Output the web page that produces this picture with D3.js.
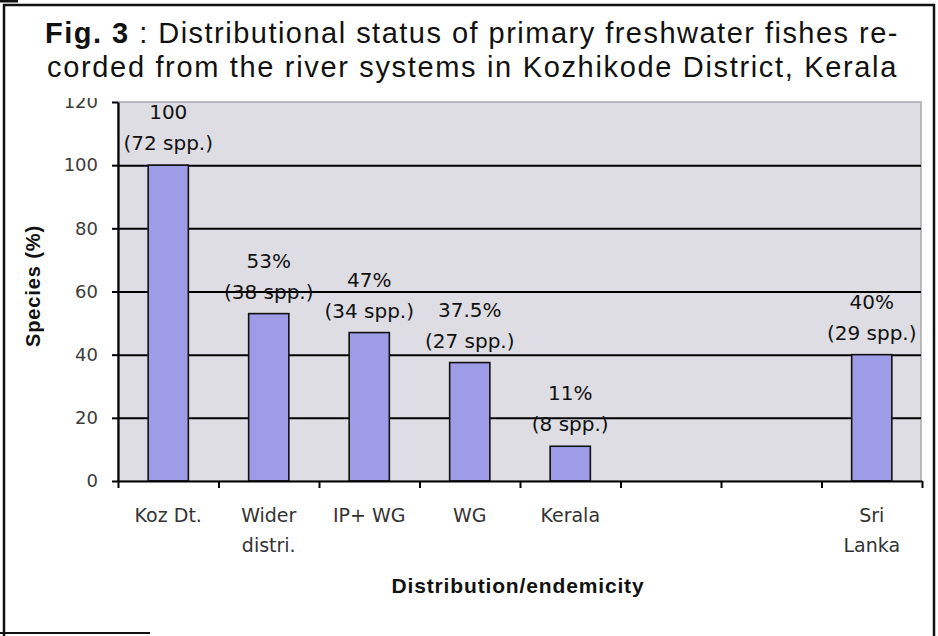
<!DOCTYPE html>
<html>
<head>
<meta charset="utf-8">
<script src="https://cdn.jsdelivr.net/npm/d3@7"></script>
<style>
  body { margin: 0; background: #fff; }
  svg { display: block; }
</style>
</head>
<body>
<script>
// values (two empty slots sit between Kerala and Sri Lanka)
var categories = [["Koz Dt."], ["Wider", "distri."], ["IP+ WG"], ["WG"], ["Kerala"], [], [], ["Sri", "Lanka"]];
var percentValues = [100, 53, 47, 37.5, 11, null, null, 40];
var percentLabels = ["100", "53%", "47%", "37.5%", "11%", "", "", "40%"];
var speciesCounts = [72, 38, 34, 27, 8, null, null, 29];
var yTicks = [0, 20, 40, 60, 80, 100, 120];
var gridTicks = [20, 40, 60, 80, 100];

var width = 938, height = 636;
var plot = { left: 118, right: 921, top: 102, bottom: 481 };

var svg = d3.select("body").append("svg")
  .attr("width", width)
  .attr("height", height);

// scales
var x = d3.scaleBand()
  .domain(d3.range(categories.length))
  .range([plot.left, plot.right + 1])
  .paddingInner(0.6)
  .paddingOuter(0.3);

var xEdge = d3.scaleLinear()
  .domain([0, categories.length])
  .range([plot.left, plot.right + 1]);

var y = d3.scaleLinear()
  .domain([0, 120])
  .range([plot.bottom, plot.top]);

// stretch a text node with letter spacing so it covers a given width
function fitWidth(sel, target) {
  var n = sel.text().length;
  var w = sel.node().getComputedTextLength();
  sel.attr("letter-spacing", ((target - w) / n).toFixed(3));
}

// plot area background
svg.append("rect")
  .attr("x", plot.left)
  .attr("y", plot.top)
  .attr("width", plot.right - plot.left)
  .attr("height", plot.bottom - plot.top)
  .attr("fill", "#dddde3")
  .attr("stroke", "#a9a9ad")
  .attr("stroke-width", 1.5);

// horizontal grid lines
var grid = svg.append("g")
  .attr("class", "grid")
  .attr("transform", "translate(" + plot.left + ",0)")
  .call(d3.axisLeft(y).tickValues(gridTicks).tickSize(-(plot.right - plot.left)).tickFormat(""));
grid.select(".domain").remove();
grid.selectAll("line").attr("stroke", "#000").attr("stroke-width", 2);

// bars
var idx = d3.range(categories.length).filter(function (i) { return percentValues[i] != null; });

svg.selectAll(".bar")
  .data(idx)
  .enter().append("rect")
  .attr("class", "bar")
  .attr("x", function (i) { return x(i); })
  .attr("y", function (i) { return y(percentValues[i]); })
  .attr("width", x.bandwidth())
  .attr("height", function (i) { return y(0) - y(percentValues[i]); })
  .attr("fill", "#9e9ce6")
  .attr("stroke", "#111")
  .attr("stroke-width", 1.6);

// value labels, two lines above each bar
var labels = svg.selectAll(".val")
  .data(idx)
  .enter().append("g")
  .attr("class", "val")
  .attr("font-family", "'DejaVu Sans', sans-serif")
  .attr("font-size", 20)
  .attr("fill", "#111")
  .attr("text-anchor", "middle");

labels.append("text")
  .attr("x", function (i) { return x(i) + x.bandwidth() / 2; })
  .attr("y", function (i) { return y(percentValues[i]) - 46; })
  .text(function (i) { return percentLabels[i]; });

labels.append("text")
  .attr("x", function (i) { return x(i) + x.bandwidth() / 2; })
  .attr("y", function (i) { return y(percentValues[i]) - 15; })
  .text(function (i) { return "(" + speciesCounts[i] + " spp.)"; });

// y axis
var yAxis = svg.append("g")
  .attr("transform", "translate(" + plot.left + ",0)")
  .call(d3.axisLeft(y).tickValues(yTicks).tickSize(6).tickSizeOuter(0).tickPadding(14));
yAxis.select(".domain").attr("stroke", "#000").attr("stroke-width", 2.2);
yAxis.selectAll("line").attr("stroke", "#000").attr("stroke-width", 2);
yAxis.selectAll("text")
  .attr("font-family", "'DejaVu Sans', sans-serif")
  .attr("font-size", 18)
  .attr("fill", "#3c3c3c");

// x axis: tick marks on the slot edges
var xAxis = svg.append("g")
  .attr("transform", "translate(0," + plot.bottom + ")")
  .call(d3.axisBottom(xEdge).tickValues(d3.range(categories.length + 1)).tickSize(7).tickSizeOuter(0).tickFormat(""));
xAxis.select(".domain").attr("stroke", "#000").attr("stroke-width", 2.2);
xAxis.selectAll("line").attr("stroke", "#000").attr("stroke-width", 2);

// category labels
var catLabels = svg.append("g")
  .attr("font-family", "'DejaVu Sans', sans-serif")
  .attr("font-size", 19)
  .attr("fill", "#333")
  .attr("text-anchor", "middle")
  .selectAll("text")
  .data(d3.range(categories.length))
  .enter().append("text")
  .attr("x", function (i) { return x(i) + x.bandwidth() / 2; })
  .attr("y", 522);

catLabels.selectAll("tspan")
  .data(function (i) { return categories[i]; })
  .enter().append("tspan")
  .attr("x", function () { return this.parentNode.getAttribute("x"); })
  .attr("dy", function (d, j) { return j === 0 ? 0 : 30; })
  .text(function (d) { return d; });

// axis titles
var yTitle = svg.append("text")
  .attr("transform", "translate(40,286) rotate(-90)")
  .attr("text-anchor", "middle")
  .attr("font-family", "'Liberation Sans', Arial, sans-serif")
  .attr("font-weight", "bold")
  .attr("font-size", 20)
  .attr("fill", "#111")
  .text("Species (%)");
fitWidth(yTitle, 122);

var xTitle = svg.append("text")
  .attr("x", 518)
  .attr("y", 593)
  .attr("text-anchor", "middle")
  .attr("font-family", "'Liberation Sans', Arial, sans-serif")
  .attr("font-weight", "bold")
  .attr("font-size", 21)
  .attr("fill", "#111")
  .text("Distribution/endemicity");
fitWidth(xTitle, 253);

// caption band sits over the top of the chart (hides half of the "120")
svg.append("rect")
  .attr("x", 5)
  .attr("y", 6)
  .attr("width", 928)
  .attr("height", 92)
  .attr("fill", "#fff");

var title1 = svg.append("text")
  .attr("x", 45)
  .attr("y", 43)
  .attr("font-family", "'Liberation Sans', Arial, sans-serif")
  .attr("font-size", 29)
  .attr("fill", "#111");
title1.append("tspan").attr("font-weight", "bold").text("Fig. 3");
title1.append("tspan").text(" : Distributional status of primary freshwater fishes re-");
fitWidth(title1, 854);

var title2 = svg.append("text")
  .attr("x", 47)
  .attr("y", 77)
  .attr("font-family", "'Liberation Sans', Arial, sans-serif")
  .attr("font-size", 29)
  .attr("fill", "#111")
  .text("corded from the river systems in Kozhikode District, Kerala");
fitWidth(title2, 851);

// outer frame of the figure box
var frame = svg.append("g").attr("stroke", "#111").attr("fill", "none");
frame.append("path").attr("d", "M4,636V5H934V636").attr("stroke-width", 2.5);
frame.append("path").attr("d", "M0,633H150").attr("stroke-width", 2);
frame.append("path").attr("d", "M0,1H18").attr("stroke-width", 3);
</script>
</body>
</html>
